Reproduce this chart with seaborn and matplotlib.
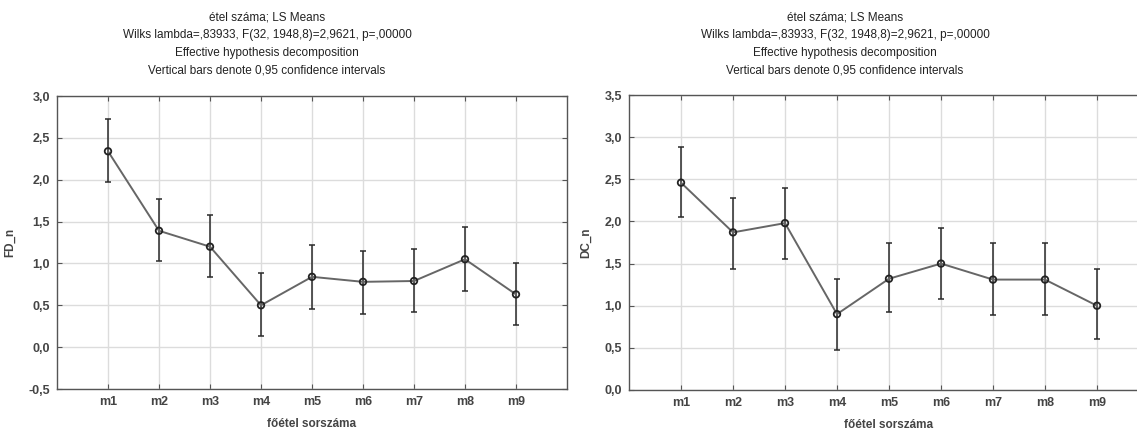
import matplotlib
matplotlib.use("Agg")
import matplotlib.pyplot as plt
import seaborn as sns
import numpy as np
import pandas as pd

categories = ["m1", "m2", "m3", "m4", "m5", "m6", "m7", "m8", "m9"]
fd_mean = [2.34, 1.39, 1.20, 0.50, 0.84, 0.78, 0.79, 1.05, 0.63]
fd_low = [1.97, 1.03, 0.84, 0.13, 0.46, 0.40, 0.42, 0.67, 0.27]
fd_high = [2.72, 1.77, 1.58, 0.89, 1.22, 1.15, 1.17, 1.43, 1.01]
dc_mean = [2.46, 1.87, 1.98, 0.90, 1.32, 1.50, 1.31, 1.31, 1.00]
dc_low = [2.05, 1.44, 1.56, 0.48, 0.92, 1.08, 0.89, 0.89, 0.60]
dc_high = [2.88, 2.28, 2.40, 1.32, 1.75, 1.92, 1.74, 1.74, 1.44]

title_lines = "étel száma; LS Means\nWilks lambda=,83933, F(32, 1948,8)=2,9621, p=,00000\nEffective hypothesis decomposition\nVertical bars denote 0,95 confidence intervals"
xlabel = "főétel sorszáma"

sns.set_style("whitegrid")
plt.rcParams['font.family'] = ['Liberation Sans', 'DejaVu Sans']

W, H = 1137, 429
fig = plt.figure(figsize=(W / 100, H / 100), dpi=100)

def px_axes(x0, y0, x1, y1):
    return fig.add_axes([x0 / W, 1 - y1 / H, (x1 - x0) / W, (y1 - y0) / H])

ax1 = px_axes(57, 96, 567, 389)
ax2 = px_axes(629, 95, 1149, 390)

def draw(ax, mean, low, high, ylabel, ylim, yticks):
    pos = np.arange(1, len(categories) + 1)
    df = pd.DataFrame({"pos": pos, "mean": mean})
    mean_a = np.array(mean)
    yerr = np.vstack([mean_a - np.array(low), np.array(high) - mean_a])
    ax.errorbar(pos, mean_a, yerr=yerr, fmt="none", ecolor="#2a2a2a",
                elinewidth=1.1, capsize=2.5, capthick=1.1, zorder=3)
    sns.lineplot(data=df, x="pos", y="mean", ax=ax, color="#666666",
                 linewidth=1.4, zorder=4)
    ax.scatter(pos, mean_a, s=22, facecolor="none", edgecolor="#222222",
               linewidth=1.3, zorder=5)
    ax.set_xlim(0, 10)
    ax.set_ylim(*ylim)
    ax.set_xticks(pos)
    ax.set_xticklabels(categories)
    ax.set_yticks(yticks)
    ax.set_yticklabels([f"{v:.1f}".replace(".", ",") for v in yticks])
    ax.grid(True, color="#dcdcdc", linewidth=1.0)
    for s in ax.spines.values():
        s.set_color("#555555")
        s.set_linewidth(1.0)
        s.set_visible(True)
    ax.tick_params(direction="in", length=3.5, width=0.8, color="#555555",
                   top=True, right=True, bottom=True, left=True,
                   labelsize=9, labelcolor="#444444", pad=5)
    for lab in ax.get_xticklabels() + ax.get_yticklabels():
        lab.set_fontweight("bold")
    ax.set_xlabel(xlabel, fontsize=8.5, color="#444444", labelpad=7,
                  fontweight="bold")
    ax.set_ylabel(ylabel, fontsize=8.5, color="#444444", labelpad=9,
                  fontweight="bold")

draw(ax1, fd_mean, fd_low, fd_high, "FD_n", (-0.5, 3.0),
     [-0.5, 0.0, 0.5, 1.0, 1.5, 2.0, 2.5, 3.0])
draw(ax2, dc_mean, dc_low, dc_high, "DC_n", (0.0, 3.5),
     [0.0, 0.5, 1.0, 1.5, 2.0, 2.5, 3.0, 3.5])

for cx in (267, 845):
    fig.text(cx / W, 1 - 12 / H, title_lines, ha="center", va="top",
             fontsize=8.5, color="#222222", linespacing=1.6)

fig.savefig("out.png", dpi=100)
